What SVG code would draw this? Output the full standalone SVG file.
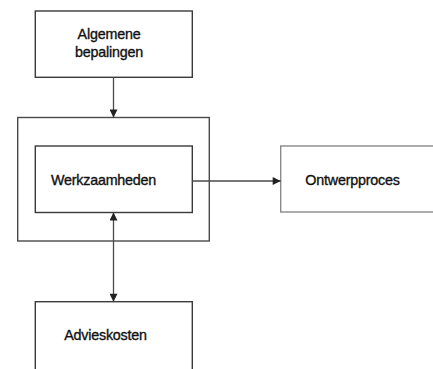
<svg xmlns="http://www.w3.org/2000/svg" width="433" height="369" viewBox="0 0 433 369">
  <defs>
    <marker id="head" viewBox="0 0 10 10" refX="10" refY="5" markerWidth="9" markerHeight="8" markerUnits="userSpaceOnUse" orient="auto-start-reverse">
      <path d="M0,0 L10,5 L0,10 z" fill="#222"/>
    </marker>
    <marker id="head-lg" viewBox="0 0 10 10" refX="10" refY="5" markerWidth="11" markerHeight="8" markerUnits="userSpaceOnUse" orient="auto-start-reverse">
      <path d="M0,0 L10,5 L0,10 z" fill="#222"/>
    </marker>
    <style>
      .box { fill: #fff; stroke: #3a3a3a; stroke-width: 1.4; }
      .box.light { stroke: #8a8a8a; }
      .frame { fill: none; stroke: #4a4a4a; stroke-width: 1.4; }
      .label { font-family: "Liberation Sans", Arial, sans-serif; font-size: 14.3px; fill: #111; stroke: #111; stroke-width: 0.35; text-anchor: middle; letter-spacing: -0.2px; }
      .link { fill: none; stroke: #4a4a4a; stroke-width: 1.3; }
    </style>
  </defs>
  <rect width="433" height="369" fill="#fff"/>

  <!-- outer frame around the activities block -->
  <g id="frame">
    <rect class="frame" x="17.7" y="117.5" width="191.6" height="123.5"/>
  </g>

  <g id="algemene-bepalingen">
    <rect class="box" x="35.3" y="11" width="157" height="66.3"/>
    <text class="label" x="109" y="39">Algemene</text>
    <text class="label" x="109" y="57">bepalingen</text>
  </g>

  <g id="werkzaamheden">
    <rect class="box" x="35.3" y="146" width="157" height="66.5"/>
    <text class="label" x="103.5" y="185">Werkzaamheden</text>
  </g>

  <g id="ontwerpproces">
    <rect class="box light" x="280.7" y="146" width="170" height="66"/>
    <text class="label" x="352.5" y="184.5">Ontwerpproces</text>
  </g>

  <g id="advieskosten">
    <rect class="box" x="35.3" y="301.7" width="157" height="100"/>
    <text class="label" x="105.5" y="340">Advieskosten</text>
  </g>

  <g id="connectors">
    <line class="link" x1="113.5" y1="77.3" x2="113.5" y2="117.5" marker-end="url(#head)"/>
    <line class="link" x1="192.3" y1="181" x2="280.7" y2="181" marker-end="url(#head)"/>
    <line class="link" x1="113.5" y1="212.5" x2="113.5" y2="301.7" marker-start="url(#head-lg)" marker-end="url(#head-lg)"/>
  </g>
</svg>
